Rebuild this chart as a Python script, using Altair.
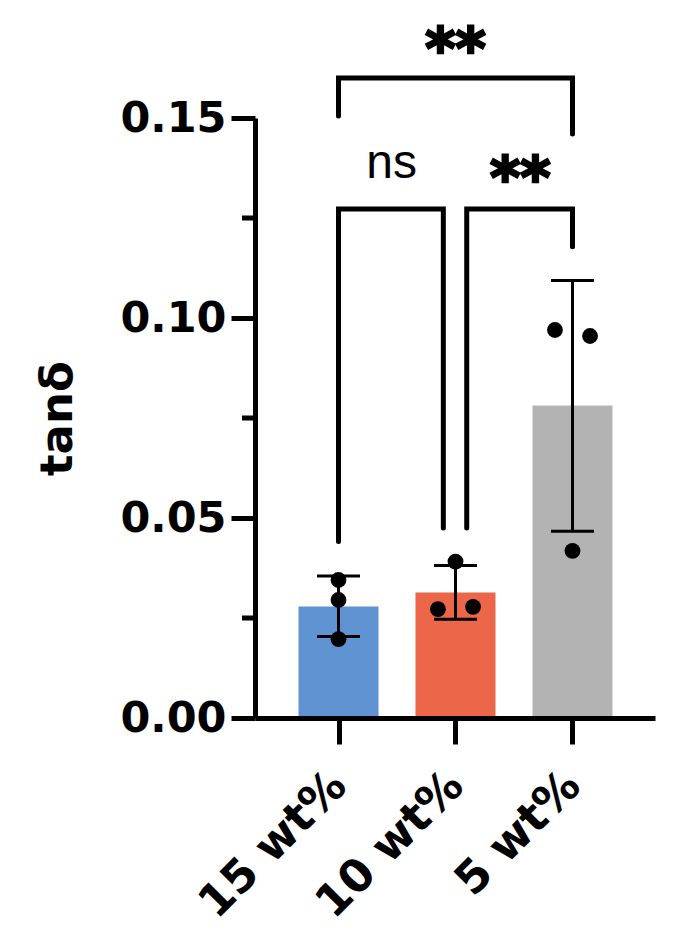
import json
import altair as alt
import pandas as pd

# ---------------- data ----------------
categories = ["15 wt%", "10 wt%", "5 wt%"]
cat_pos = [0, 1, 2]
bar_colors = ["#5F93D1", "#EC6749", "#B3B3B3"]
means = [0.0279, 0.0314, 0.0781]
err_low = [0.0204, 0.0247, 0.0467]
err_high = [0.0355, 0.0381, 0.1094]

pt_group = [0, 0, 0, 1, 1, 1, 2, 2, 2]
pt_offset = [0, 0, 0, -0.15, 0.15, 0, -0.15, 0.15, 0]
pt_value = [0.0345, 0.0295, 0.0197, 0.0272, 0.0278, 0.0391, 0.0970, 0.0955, 0.0418]

major_ticks = [0, 0.05, 0.10, 0.15]
minor_ticks = [0.025, 0.075, 0.125]

# significance brackets: id, order, x, y
br_id = ["a"] * 4 + ["b"] * 4 + ["c"] * 4
br_order = [0, 1, 2, 3] * 3
br_x = [0, 0, 0.896, 0.896, 1.096, 1.096, 2.0, 2.0, 0, 0, 2.0, 2.0]
br_y = [0.0441, 0.12725, 0.12725, 0.0475,
        0.0475, 0.12725, 0.12725, 0.1178,
        0.1505, 0.16, 0.16, 0.146]

sig_text = ["ns", "**", "**"]
sig_x = [0.454, 1.554, 1.0]
sig_y = [0.135, 0.130, 0.1622]

# ---------------- tables ----------------
bars_df = pd.DataFrame({"cat": categories, "pos": cat_pos, "mean": means,
                        "lo": err_low, "hi": err_high})
pts_df = pd.DataFrame({"pos": [g + o for g, o in zip(pt_group, pt_offset)],
                       "val": pt_value})
minor_df = pd.DataFrame({"v": minor_ticks})
br_df = pd.DataFrame({"id": br_id, "o": br_order, "x": br_x, "y": br_y})
sig_df = pd.DataFrame({"t": sig_text, "x": sig_x, "y": sig_y})

xs = alt.Scale(domain=[-0.671, 2.6625], nice=False, zero=False)
ys = alt.Scale(domain=[0, 0.15], nice=False, zero=True)

FONT = "DejaVu Sans"
label_expr = json.dumps(categories) + "[datum.value]"

x_axis = alt.Axis(values=cat_pos, labelExpr=label_expr, title=None, grid=False,
                  tickSize=26, tickWidth=5, tickColor="black",
                  domainWidth=5, domainColor="black",
                  labelAngle=-45, labelAlign="right", labelBaseline="middle",
                  labelPadding=34, labelFont=FONT, labelFontSize=45,
                  labelFontWeight="bold", labelColor="black", labelLimit=0,
                  labelOverlap=False, labelFlush=False, zindex=1)
y_axis = alt.Axis(values=major_ticks, format=".2f", title="tanδ", grid=False,
                  tickSize=24, tickWidth=5, tickColor="black",
                  domainWidth=5, domainColor="black",
                  labelPadding=5, labelFont=FONT, labelFontSize=43,
                  labelFontWeight="bold", labelColor="black", labelLimit=0,
                  titleFont=FONT, titleFontSize=45, titleFontWeight="bold",
                  titleColor="black", titleX=-184, titleY=300,
                  titleAlign="center", titleBaseline="alphabetic", titleAngle=270,
                  zindex=1)


def X(field):
    return alt.X(field, type="quantitative", scale=xs, axis=x_axis)


def Y(field):
    return alt.Y(field, type="quantitative", scale=ys, axis=y_axis)


bars = alt.Chart(bars_df).mark_bar(size=80).encode(
    x=X("pos"), y=Y("mean"),
    color=alt.Color("cat:N", scale=alt.Scale(domain=categories, range=bar_colors),
                    legend=None),
)

minor = alt.Chart(minor_df).mark_rule(strokeWidth=5, color="black").encode(
    y=Y("v"), x=alt.value(-13), x2=alt.value(0),
)

err = alt.Chart(bars_df).mark_rule(strokeWidth=3, color="black").encode(
    x=X("pos"), y=Y("lo"), y2="hi:Q",
)
cap_lo = alt.Chart(bars_df).mark_tick(orient="horizontal", size=43, thickness=3,
                                      color="black", opacity=1).encode(
    x=X("pos"), y=Y("lo"),
)
cap_hi = alt.Chart(bars_df).mark_tick(orient="horizontal", size=43, thickness=3,
                                      color="black", opacity=1).encode(
    x=X("pos"), y=Y("hi"),
)

points = alt.Chart(pts_df).mark_circle(size=250, color="black", opacity=1).encode(
    x=X("pos"), y=Y("val"),
)

brackets = alt.Chart(br_df).mark_line(strokeWidth=5, color="black",
                                      strokeCap="round", strokeJoin="miter").encode(
    x=X("x"), y=Y("y"), detail="id:N", order="o:Q",
)

ns_text = alt.Chart(sig_df).transform_filter("datum.t == 'ns'").mark_text(
    font="Liberation Sans", fontSize=48, baseline="alphabetic", align="center",
    color="black").encode(x=X("x"), y=Y("y"), text="t:N")
star_text = alt.Chart(sig_df).transform_filter("datum.t != 'ns'").mark_text(
    font=FONT, fontSize=58, fontWeight="bold", baseline="alphabetic",
    align="center", color="black", stroke="black", strokeWidth=2.5).encode(
    x=X("x"), y=Y("y"), text="t:N")

chart = alt.layer(bars, minor, err, cap_lo, cap_hi, points, brackets,
                  ns_text, star_text).properties(
    width=400, height=600,
    autosize=alt.AutoSizeParams(type="none"),
    padding={"left": 247, "top": 110, "right": 17, "bottom": 215},
).configure_view(stroke=None)

chart.save("out.html", embed_options={"renderer": "svg", "actions": False})
